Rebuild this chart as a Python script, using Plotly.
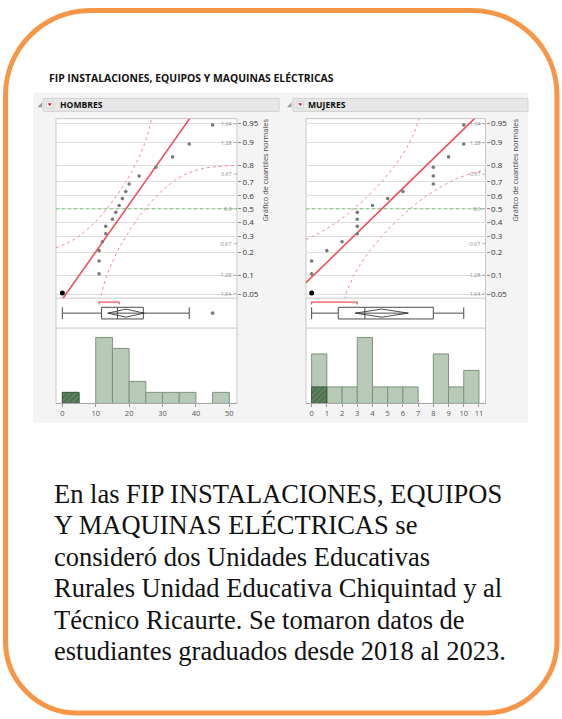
import math
from statistics import NormalDist

import numpy as np
import plotly.graph_objects as go

W, H = 562, 719
ND = NormalDist()

# ---------------- data ----------------
title_text = "FIP INSTALACIONES, EQUIPOS Y MAQUINAS ELÉCTRICAS"
panel_names = ["HOMBRES", "MUJERES"]
hombres = [0, 11, 11, 11, 12, 13, 13, 15, 16, 17, 18, 19, 20, 23, 28, 33, 38, 45]
mujeres = [0, 0, 0, 1, 2, 3, 3, 3, 3, 4, 5, 6, 8, 8, 8, 9, 10, 10]
hombres_selected = [0]
mujeres_selected = [0]
hombres_bin_size = 5
mujeres_bin_size = 1
hombres_xticks = [0, 10, 20, 30, 40, 50]
mujeres_xticks = [0, 1, 2, 3, 4, 5, 6, 7, 8, 9, 10, 11]
prob_ticks = [0.05, 0.1, 0.2, 0.3, 0.4, 0.5, 0.6, 0.7, 0.8, 0.9, 0.95]
prob_labels = ["0.05", "0.1", "0.2", "0.3", "0.4", "0.5", "0.6", "0.7", "0.8", "0.9", "0.95"]
z_marks = [-1.64, -1.28, -0.67, 0.0, 0.67, 1.28, 1.64]
z_mark_labels = ["-1.64", "-1.28", "-0.67", "0.0", "0.67", "1.28", "1.64"]
axis_title = "Gráfico de cuantiles normales"
body_lines = [
    "En las FIP INSTALACIONES, EQUIPOS",
    "Y MAQUINAS ELÉCTRICAS se",
    "consideró dos Unidades Educativas",
    "Rurales Unidad Educativa Chiquintad y al",
    "Técnico Ricaurte. Se tomaron datos de",
    "estudiantes graduados desde 2018 al 2023.",
]

LILLIEFORS_D = 0.2      # 5% critical value, n = 18
T_CRIT = 2.1098         # t(0.975, 17 df)


# ---------------- helpers ----------------
def fx(px):
    return px / W


def fy(py):
    return 1 - py / H


def jmp_quantile(v, p):
    v = sorted(v)
    n = len(v)
    r = (n + 1) * p
    k = int(math.floor(r))
    f = r - k
    if k < 1:
        return v[0]
    if k >= n:
        return v[-1]
    return v[k - 1] + f * (v[k] - v[k - 1])


def shortest_half(v):
    v = sorted(v)
    n = len(v)
    m = n // 2
    best = None
    for i in range(n - m + 1):
        w = v[i + m - 1] - v[i]
        if best is None or w < best[0]:
            best = (w, v[i], v[i + m - 1])
    return best[1], best[2]


def ref(kind, n):
    return kind if n == 1 else f"{kind}{n}"


def axname(kind, n):
    return kind + "axis" if n == 1 else f"{kind}axis{n}"


def rr_path(x0, y0, x1, y1, rt, rb):
    k = 0.5523

    def P(x, y):
        return f"{x / W:.5f},{1 - y / H:.5f}"

    return (
        f"M {P(x0 + rt, y0)} L {P(x1 - rt, y0)} "
        f"C {P(x1 - rt + k * rt, y0)} {P(x1, y0 + rt - k * rt)} {P(x1, y0 + rt)} "
        f"L {P(x1, y1 - rb)} "
        f"C {P(x1, y1 - rb + k * rb)} {P(x1 - rb + k * rb, y1)} {P(x1 - rb, y1)} "
        f"L {P(x0 + rb, y1)} "
        f"C {P(x0 + rb - k * rb, y1)} {P(x0, y1 - rb + k * rb)} {P(x0, y1 - rb)} "
        f"L {P(x0, y0 + rt)} "
        f"C {P(x0, y0 + rt - k * rt)} {P(x0 + rt - k * rt, y0)} {P(x0 + rt, y0)} Z"
    )


def poly_path(pts):
    s = "M " + " L ".join(f"{x / W:.5f},{1 - y / H:.5f}" for x, y in pts) + " Z"
    return s


# ---------------- geometry (pixels) ----------------
Y_QQ = (118, 298)
Y_BOX = (298, 328)
Y_HIST = (328, 403.5)
Z_RANGE = [-1.721, 1.740]

panels = [
    dict(name=panel_names[0], data=hombres, sel=hombres_selected, bin=hombres_bin_size,
         xticks=hombres_xticks, x0=56, x1=237, xr=[-1.9, 52.3], bar=(43, 279),
         tri=37.5, icon=46.5, label_x=58, title_x=265.5),
    dict(name=panel_names[1], data=mujeres, sel=mujeres_selected, bin=mujeres_bin_size,
         xticks=mujeres_xticks, x0=306, x1=485.5, xr=[-0.37, 11.43], bar=(293, 528),
         tri=287, icon=297, label_x=306, title_x=515.5),
]

FONT = "Open Sans"
RED = "#F0505C"
RED_BAND = "#F28C95"
PT_GRAY = "#7A7A7A"
FRAME = "#C6C6C6"

fig = go.Figure()
layout = dict(
    width=W, height=H,
    margin=dict(l=0, r=0, t=0, b=0),
    paper_bgcolor="white",
    plot_bgcolor="rgba(0,0,0,0)",
    showlegend=False,
    hovermode=False,
    barmode="overlay",
    bargap=0,
)
shapes = []
annotations = []

# orange rounded frame
shapes.append(dict(type="path", xref="paper", yref="paper",
                   path=rr_path(5.5, 9.5, 557, 714, 85, 72),
                   line=dict(color="#F79646", width=5), fillcolor="rgba(0,0,0,0)", layer="below"))
# JMP window background
shapes.append(dict(type="rect", xref="paper", yref="paper", x0=fx(33), x1=fx(528), y0=fy(423), y1=fy(92),
                   fillcolor="#F4F4F4", line=dict(width=0), layer="below"))

annotations.append(dict(text=f"<b>{title_text}</b>", x=fx(47), y=fy(77), xref="paper", yref="paper",
                        xanchor="left", yanchor="middle", showarrow=False,
                        font=dict(family=FONT, size=10.4, color="#111")))

for i, p in enumerate(panels):
    nq, nb, nh = 3 * i + 1, 3 * i + 2, 3 * i + 3
    data = sorted(p["data"])
    n = len(data)
    mean = float(np.mean(data))
    sd = float(np.std(data, ddof=1))
    dom = [fx(p["x0"]), fx(p["x1"])]

    # header bar
    shapes.append(dict(type="rect", xref="paper", yref="paper", x0=fx(p["bar"][0]), x1=fx(p["bar"][1]),
                       y0=fy(110.7), y1=fy(97.7), fillcolor="#E7E7E7", line=dict(color="#D2D2D2", width=1),
                       layer="below"))
    t = p["tri"]
    shapes.append(dict(type="path", xref="paper", yref="paper",
                       path=poly_path([(t + 4.5, 101.5), (t + 4.5, 106.5), (t, 106.5)]),
                       fillcolor="#9A9A9A", line=dict(width=0), layer="below"))
    c = p["icon"]
    shapes.append(dict(type="rect", xref="paper", yref="paper", x0=fx(c), x1=fx(c + 6.5),
                       y0=fy(107.3), y1=fy(100.8), fillcolor="#F6F6F6", line=dict(color="#C8C8C8", width=0.6),
                       layer="below"))
    shapes.append(dict(type="path", xref="paper", yref="paper",
                       path=poly_path([(c + 1.2, 102.6), (c + 5.3, 102.6), (c + 3.25, 105.6)]),
                       fillcolor="#D8202A", line=dict(width=0), layer="below"))
    annotations.append(dict(text=f"<b>{p['name']}</b>", x=fx(p["label_x"]), y=fy(104.4), xref="paper",
                            yref="paper", xanchor="left", yanchor="middle", showarrow=False,
                            font=dict(family=FONT, size=8.6, color="#111")))

    # white plot panel + separators
    shapes.append(dict(type="rect", xref="paper", yref="paper", x0=dom[0], x1=dom[1],
                       y0=fy(Y_HIST[1]), y1=fy(Y_QQ[0]), fillcolor="white",
                       line=dict(color=FRAME, width=1), layer="below"))
    for yy in (Y_QQ[1], Y_BOX[1]):
        shapes.append(dict(type="line", xref="paper", yref="paper", x0=dom[0], x1=dom[1],
                           y0=fy(yy), y1=fy(yy), line=dict(color=FRAME, width=1), layer="below"))

    # ---- axes ----
    layout[axname("x", nq)] = dict(domain=dom, range=p["xr"], anchor=ref("y", nq), visible=False)
    layout[axname("x", nb)] = dict(domain=dom, range=p["xr"], anchor=ref("y", nb), visible=False)
    layout[axname("x", nh)] = dict(domain=dom, range=p["xr"], anchor=ref("y", nh),
                                   showgrid=False, zeroline=False, showline=True, linecolor="#A8A8A8",
                                   linewidth=1, ticks="outside", ticklen=3, tickcolor="#999",
                                   tickvals=p["xticks"], ticktext=[str(v) for v in p["xticks"]],
                                   tickfont=dict(family=FONT, size=7.5, color="#555"))
    layout[axname("y", nq)] = dict(domain=[fy(Y_QQ[1]), fy(Y_QQ[0])], range=Z_RANGE, anchor=ref("x", nq),
                                   side="right", showgrid=True, gridcolor="#DEDEDE", gridwidth=1,
                                   zeroline=False, showline=False,
                                   tickvals=[ND.inv_cdf(q) for q in prob_ticks], ticktext=prob_labels,
                                   ticks="outside", ticklen=3, tickcolor="#888",
                                   tickfont=dict(family=FONT, size=8, color="#333"))
    layout[axname("y", nb)] = dict(domain=[fy(Y_BOX[1]), fy(Y_BOX[0])], range=[-1, 1],
                                   anchor=ref("x", nb), visible=False)
    counts, _ = np.histogram(data, bins=np.arange(0, max(data) + 2 * p["bin"], p["bin"]))
    layout[axname("y", nh)] = dict(domain=[fy(Y_HIST[1]), fy(Y_HIST[0])],
                                   range=[0, counts.max() * 1.142], anchor=ref("x", nh), visible=False)

    # ---- normal quantile plot ----
    xq = dict(xaxis=ref("x", nq), yaxis=ref("y", nq))
    shapes.append(dict(type="line", xref=f"{ref('x', nq)} domain", x0=0, x1=1, yref=ref("y", nq),
                       y0=0, y1=0, line=dict(color="#73C873", width=1, dash="dot")))
    xs = np.linspace(p["xr"][0], p["xr"][1], 700)
    base = np.array([ND.cdf((x - mean) / sd) for x in xs])
    upper = [ND.inv_cdf(min(b + LILLIEFORS_D, 0.99999)) for b in base]
    lower = [ND.inv_cdf(max(b - LILLIEFORS_D, 0.00001)) for b in base]
    for band in (upper, lower):
        fig.add_trace(go.Scatter(x=xs, y=band, mode="lines", line=dict(color=RED_BAND, width=1, dash="dot"),
                                 **xq))
    fig.add_trace(go.Scatter(x=xs, y=(xs - mean) / sd, mode="lines", line=dict(color=RED, width=1.6), **xq))

    zs = [ND.inv_cdf((k + 1) / (n + 1)) for k in range(n)]
    sel_left = list(p["sel"])
    sel_idx = []
    for k, v in enumerate(data):
        if v in sel_left:
            sel_idx.append(k)
            sel_left.remove(v)
    gx = [v for k, v in enumerate(data) if k not in sel_idx]
    gz = [z for k, z in enumerate(zs) if k not in sel_idx]
    fig.add_trace(go.Scatter(x=gx, y=gz, mode="markers", marker=dict(color=PT_GRAY, size=3.6), **xq))
    fig.add_trace(go.Scatter(x=[data[k] for k in sel_idx], y=[zs[k] for k in sel_idx], mode="markers",
                             marker=dict(color="black", size=5), cliponaxis=False, **xq))

    # inner z labels and ticks
    for zv, zl in zip(z_marks, z_mark_labels):
        annotations.append(dict(text=zl, x=fx(p["x1"] - 3.6), y=zv, xref="paper", yref=ref("y", nq),
                                xanchor="right", yanchor="middle", showarrow=False,
                                font=dict(family=FONT, size=5.3, color="#8A8A8A")))
        shapes.append(dict(type="line", xref="paper", yref=ref("y", nq), x0=fx(p["x1"] - 3.2),
                           x1=fx(p["x1"]), y0=zv, y1=zv, line=dict(color="#9A9A9A", width=0.8)))

    annotations.append(dict(text=axis_title, x=fx(p["title_x"]), y=fy(169.5), xref="paper", yref="paper",
                            xanchor="center", yanchor="middle", textangle=-90, showarrow=False,
                            font=dict(family=FONT, size=7.4, color="#444")))

    # ---- outlier box plot ----
    xb = dict(xaxis=ref("x", nb), yaxis=ref("y", nb))
    q1, med, q3 = jmp_quantile(data, 0.25), jmp_quantile(data, 0.5), jmp_quantile(data, 0.75)
    iqr = q3 - q1
    lf = min(v for v in data if v >= q1 - 1.5 * iqr)
    uf = max(v for v in data if v <= q3 + 1.5 * iqr)
    outl = [v for v in data if v < lf or v > uf]
    fig.add_trace(go.Box(q1=[q1], median=[med], q3=[q3], lowerfence=[lf], upperfence=[uf], y=[0],
                         orientation="h", width=0.78, whiskerwidth=1, fillcolor="white",
                         line=dict(color="#4A4A4A", width=1), boxpoints=False, **xb))
    if outl:
        fig.add_trace(go.Scatter(x=outl, y=[0] * len(outl), mode="markers",
                                 marker=dict(color=PT_GRAY, size=3.6), **xb))
    ci = T_CRIT * sd / math.sqrt(n)
    fig.add_trace(go.Scatter(x=[mean - ci, mean, mean + ci, mean, mean - ci, mean + ci],
                             y=[0, 0.27, 0, -0.27, 0, 0], mode="lines",
                             line=dict(color="#3A3A3A", width=0.9), **xb))
    a, b = shortest_half(data)
    fig.add_trace(go.Scatter(x=[a, a, b, b], y=[0.58, 0.74, 0.74, 0.58], mode="lines",
                             line=dict(color=RED, width=1.2), **xb))

    # ---- histogram ----
    xh = dict(xaxis=ref("x", nh), yaxis=ref("y", nh))
    bins = dict(start=0, end=max(data) + p["bin"], size=p["bin"])
    fig.add_trace(go.Histogram(x=data, xbins=bins, autobinx=False, opacity=1,
                               marker=dict(color="#B7CAB7", line=dict(color="#7E937E", width=1)), **xh))
    fig.add_trace(go.Histogram(x=p["sel"], xbins=bins, autobinx=False, opacity=1,
                               marker=dict(color="#4E724E", line=dict(color="#3E5A3E", width=1),
                                           pattern=dict(shape="/", fillmode="overlay", fgcolor="#7D9E7D",
                                                        size=4, solidity=0.35)), **xh))

# ---- body text ----
for k, line in enumerate(body_lines):
    annotations.append(dict(text=line, x=fx(52), y=fy(494 + 31.6 * k), xref="paper", yref="paper",
                            xanchor="left", yanchor="middle", showarrow=False,
                            font=dict(family="Liberation Serif", size=26.5, color="#111")))

layout["shapes"] = shapes
layout["annotations"] = annotations
fig.update_layout(**layout)
fig.write_html("out.html", config={"displayModeBar": False, "staticPlot": True},
               post_script="document.body.style.margin='0';document.body.style.overflow='hidden';")
